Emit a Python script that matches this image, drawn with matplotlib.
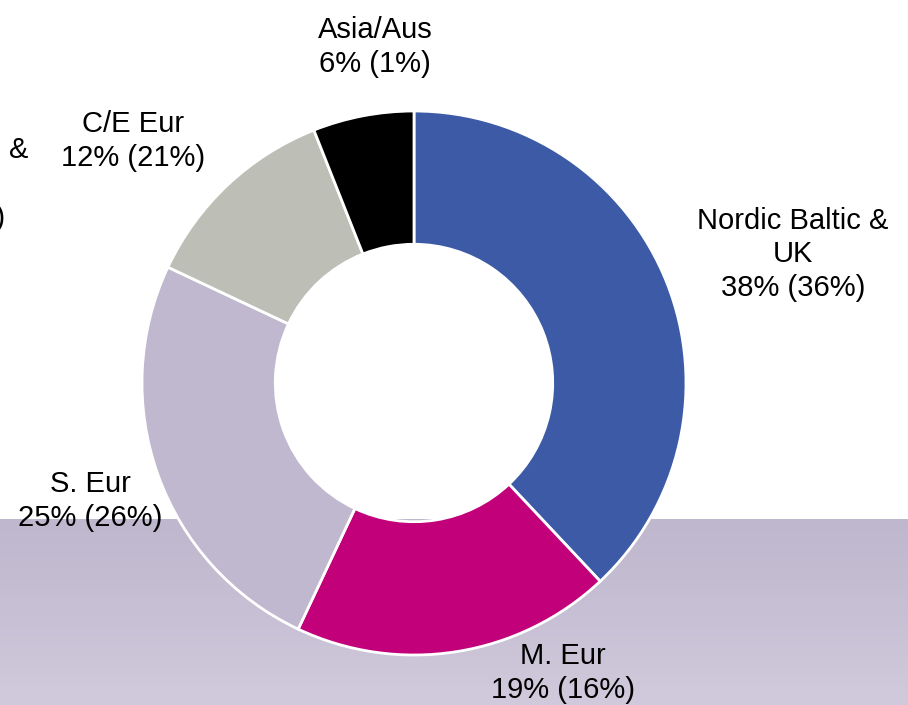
import numpy as np
import matplotlib
matplotlib.use("Agg")
import matplotlib.pyplot as plt

plt.rcParams['font.family'] = ['Liberation Sans', 'DejaVu Sans']

# Data
regions = ["Nordic Baltic &\nUK", "M. Eur", "S. Eur", "C/E Eur", "Asia/Aus"]
shares = [38, 19, 25, 12, 6]
prior_shares = [36, 16, 26, 21, 1]
colors = ["#3C5AA6", "#C1007A", "#BFB8CE", "#BDBFB6", "#000000"]

W, H = 908, 705
fig = plt.figure(figsize=(W / 100, H / 100), dpi=100)
fig.patch.set_facecolor("white")

# Background gradient band at the bottom
band_top = 519
bg = fig.add_axes([0, 0, 1, (H - band_top) / H], zorder=0)
grad = np.linspace(0, 1, 256).reshape(-1, 1)
c_top = np.array([0xBE, 0xB7, 0xCD]) / 255
c_bot = np.array([0xD1, 0xCA, 0xDC]) / 255
img = c_top[None, None, :] * (1 - grad[:, :, None]) + c_bot[None, None, :] * grad[:, :, None]
bg.imshow(img, aspect="auto", extent=[0, 1, 0, 1], origin="upper")
bg.set_axis_off()

# Donut
cx, cy, R = 414, 383, 272
ax = fig.add_axes([(cx - R) / W, (H - cy - R) / H, 2 * R / W, 2 * R / H], zorder=1)
ax.patch.set_alpha(0)
ax.pie(shares, colors=colors, startangle=90, counterclock=False, radius=1,
       wedgeprops=dict(width=0.49, edgecolor="white", linewidth=2.0))
ax.set_xlim(-1.0, 1.0)
ax.set_ylim(-1.0, 1.0)
ax.set_axis_off()

# Labels (pixel positions of text block centers)
label_pos = [(793, 254), (563, 673), (90, 501), (133, 141), (375, 47)]
for name, s, p, (x, y) in zip(regions, shares, prior_shares, label_pos):
    fig.text(x / W, 1 - y / H, f"{name}\n{s}% ({p}%)", ha="center", va="center",
             fontsize=21, color="black", linespacing=1.25, zorder=5)

# Partially visible label from a neighbouring chart
fig.text(-67 / W, 1 - 184 / H, "Nordic Baltic &\nUK\n40% (36%)", ha="center", va="center",
         fontsize=21, color="black", linespacing=1.25, zorder=5)

fig.savefig("out.png", dpi=100)
